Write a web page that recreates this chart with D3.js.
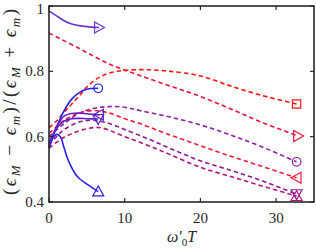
<!DOCTYPE html>
<html><head><meta charset="utf-8">
<script src="https://cdn.jsdelivr.net/npm/d3@7"></script>
<style>
html,body{margin:0;padding:0;background:#fff;}
svg{display:block;}
text{font-family:"Liberation Serif","DejaVu Serif",serif;fill:#262626;}
</style></head>
<body>
<svg id="c" width="316" height="248"></svg>
<script>
// ---- data ----
const xTicks = [0, 10, 20, 30];
const yTicks = [0.4, 0.6, 0.8, 1];
const yTickLabels = ["0.4", "0.6", "0.8", "1"];

// dashed series
const dashA_x = [0, 4, 8, 12, 16, 20, 24, 28, 32.9];
const dashA_y = [0.917, 0.87, 0.822, 0.787, 0.755, 0.723, 0.685, 0.645, 0.602];
const dashB_x = [0, 1, 2, 3, 4, 5, 6, 7, 8, 10, 13, 16, 20, 24, 28, 32.7];
const dashB_y = [0.627, 0.648, 0.675, 0.7, 0.725, 0.752, 0.772, 0.786, 0.795, 0.803, 0.805, 0.80, 0.786, 0.755, 0.727, 0.70];
const dashD_x = [0, 2, 4, 6, 8, 10, 12, 16, 20, 24, 28, 32.7];
const dashD_y = [0.60, 0.64, 0.672, 0.687, 0.692, 0.69, 0.68, 0.66, 0.636, 0.605, 0.57, 0.523];
const dashE_x = [0, 1, 2, 4, 6, 8, 10, 12, 16, 20, 24, 28, 32.7];
const dashE_y = [0.61, 0.63, 0.65, 0.672, 0.68, 0.672, 0.655, 0.64, 0.605, 0.572, 0.54, 0.51, 0.474];
const dashF_x = [0, 1, 2, 4, 6, 8, 10, 13, 16, 20, 24, 28, 32.7];
const dashF_y = [0.575, 0.6, 0.622, 0.645, 0.65, 0.64, 0.622, 0.594, 0.564, 0.526, 0.497, 0.466, 0.424];
const dashG_x = [0, 2, 4, 6, 7.1, 10, 13, 16, 20, 24, 28, 32.7];
const dashG_y = [0.565, 0.598, 0.618, 0.628, 0.626, 0.60, 0.574, 0.545, 0.506, 0.478, 0.45, 0.418];

// solid series
const solidTop_x = [0, 1, 2, 3, 4, 5, 6.6];
const solidTop_y = [0.985, 0.97, 0.955, 0.945, 0.94, 0.937, 0.934];
const solidBlueUp_x = [0, 0.5, 1, 2, 3, 4, 5, 6.5];
const solidBlueUp_y = [0.565, 0.6, 0.63, 0.68, 0.715, 0.735, 0.745, 0.748];
const solidBlueDown_x = [0, 0.5, 1, 1.5, 2, 2.5, 3, 3.5, 4, 5, 6.5];
const solidBlueDown_y = [0.57, 0.595, 0.607, 0.6, 0.565, 0.53, 0.505, 0.485, 0.472, 0.455, 0.432];
const solidPurple1_x = [0, 1, 2, 3, 4, 5, 6.6];
const solidPurple1_y = [0.575, 0.63, 0.663, 0.671, 0.672, 0.67, 0.667];
const solidPurple2_x = [0, 1, 2, 3, 4, 5, 6.5];
const solidPurple2_y = [0.58, 0.625, 0.648, 0.655, 0.656, 0.655, 0.654];

const series = [
  {x: dashA_x, y: dashA_y, color: "#e8163e", dash: true, marker: "right"},
  {x: dashB_x, y: dashB_y, color: "#ff1414", dash: true, marker: "square"},
  {x: dashD_x, y: dashD_y, color: "#8e1fa6", dash: true, marker: "circle"},
  {x: dashE_x, y: dashE_y, color: "#f71a3e", dash: true, marker: "left"},
  {x: dashF_x, y: dashF_y, color: "#8c1a9c", dash: true, marker: "down"},
  {x: dashG_x, y: dashG_y, color: "#b8127a", dash: true, marker: "up"},
  {x: solidTop_x, y: solidTop_y, color: "#6a35d0", dash: false, marker: "right"},
  {x: solidBlueUp_x, y: solidBlueUp_y, color: "#1f22f0", dash: false, marker: "circle"},
  {x: solidBlueDown_x, y: solidBlueDown_y, color: "#2a20e6", dash: false, marker: "up"},
  {x: solidPurple1_x, y: solidPurple1_y, color: "#6a1fc0", dash: false, marker: "left"},
  {x: solidPurple2_x, y: solidPurple2_y, color: "#5a22c8", dash: false, marker: "down"}
];

// ---- layout ----
const W = 316, H = 248;
const m = {l: 49, t: 6, r: 2, b: 46};
const svg = d3.select("#c");
const x = d3.scaleLinear().domain([0, 35]).range([m.l, W - m.r]);
const y = d3.scaleLinear().domain([0.4, 1]).range([H - m.b, m.t]);

const g = svg.append("g");
const line = d3.line().curve(d3.curveCatmullRom.alpha(0.5));

series.forEach(s => {
  const pts = s.x.map((v, i) => [x(v), y(s.y[i])]);
  g.append("path").attr("d", line(pts)).attr("fill", "none")
    .attr("stroke", s.color).attr("stroke-width", 1.6)
    .attr("stroke-dasharray", s.dash ? "4.5,3" : null);
});

function markerPath(t, r) {
  if (t === "right") return `M${-r*0.8},${-r}L${r},0L${-r*0.8},${r}Z`;
  if (t === "left") return `M${r*0.8},${-r}L${-r},0L${r*0.8},${r}Z`;
  if (t === "up") return `M${-r},${r*0.8}L0,${-r}L${r},${r*0.8}Z`;
  if (t === "down") return `M${-r},${-r*0.8}L0,${r}L${r},${-r*0.8}Z`;
  if (t === "square") return `M${-r*0.75},${-r*0.75}H${r*0.75}V${r*0.75}H${-r*0.75}Z`;
  return null;
}
series.forEach(s => {
  const n = s.x.length - 1;
  const cx = x(s.x[n]), cy = y(s.y[n]);
  if (s.marker === "circle") {
    g.append("circle").attr("cx", cx).attr("cy", cy).attr("r", 4.3)
      .attr("fill", "none").attr("stroke", s.color).attr("stroke-width", 1.2);
  } else {
    g.append("path").attr("d", markerPath(s.marker, 5.5))
      .attr("transform", `translate(${cx},${cy})`)
      .attr("fill", "none").attr("stroke", s.color).attr("stroke-width", 1.2);
  }
});

// ---- axes box ----
const axc = "#262626";
const frame = svg.append("g");
frame.append("rect").attr("x", m.l).attr("y", m.t)
  .attr("width", W - m.r - m.l).attr("height", H - m.b - m.t)
  .attr("fill", "none").attr("stroke", axc).attr("stroke-width", 1.6);

const tl = 4;
xTicks.forEach(v => {
  frame.append("line").attr("x1", x(v)).attr("x2", x(v)).attr("y1", y(0.4)).attr("y2", y(0.4) - tl)
    .attr("stroke", axc).attr("stroke-width", 1.2);
  frame.append("line").attr("x1", x(v)).attr("x2", x(v)).attr("y1", y(1)).attr("y2", y(1) + tl)
    .attr("stroke", axc).attr("stroke-width", 1.2);
  frame.append("text").attr("x", x(v)).attr("y", y(0.4) + 21)
    .attr("text-anchor", "middle").attr("font-size", 15).text(v);
});
yTicks.forEach((v, i) => {
  frame.append("line").attr("x1", x(0)).attr("x2", x(0) + tl).attr("y1", y(v)).attr("y2", y(v))
    .attr("stroke", axc).attr("stroke-width", 1.2);
  frame.append("line").attr("x1", x(35)).attr("x2", x(35) - tl).attr("y1", y(v)).attr("y2", y(v))
    .attr("stroke", axc).attr("stroke-width", 1.2);
  frame.append("text").attr("x", x(0) - 5).attr("y", Math.max(y(v) + 5, 14))
    .attr("text-anchor", "end").attr("font-size", 15).text(yTickLabels[i]);
});

// x label
const xl = svg.append("text").attr("x", x(17.5)).attr("y", 242)
  .attr("text-anchor", "middle").attr("font-size", 16).attr("font-style", "italic");
xl.append("tspan").text("ω′");
xl.append("tspan").attr("dy", 4).attr("font-size", 11).attr("font-style", "normal").text("0");
xl.append("tspan").attr("dy", -4).text("T");

// y label
const yl = svg.append("text").attr("transform", `translate(16,${102}) rotate(-90)`)
  .attr("text-anchor", "middle").attr("font-size", 19)
  .attr("textLength", 186).attr("lengthAdjust", "spacing");
const parts = [
  ["(", 0, false, false], ["ϵ", 0, true, false], ["M", 4, true, true], [" − ", -4, false, false],
  ["ϵ", 0, true, false], ["m", 4, true, true], [")/(", -4, false, false],
  ["ϵ", 0, true, false], ["M", 4, true, true], [" + ", -4, false, false],
  ["ϵ", 0, true, false], ["m", 4, true, true], [")", -4, false, false]
];
parts.forEach(p => {
  const t = yl.append("tspan").attr("dy", p[1]).text(p[0]);
  if (p[2]) t.attr("font-style", "italic");
  if (p[3]) t.attr("font-size", 13);
});
</script>
</body></html>
